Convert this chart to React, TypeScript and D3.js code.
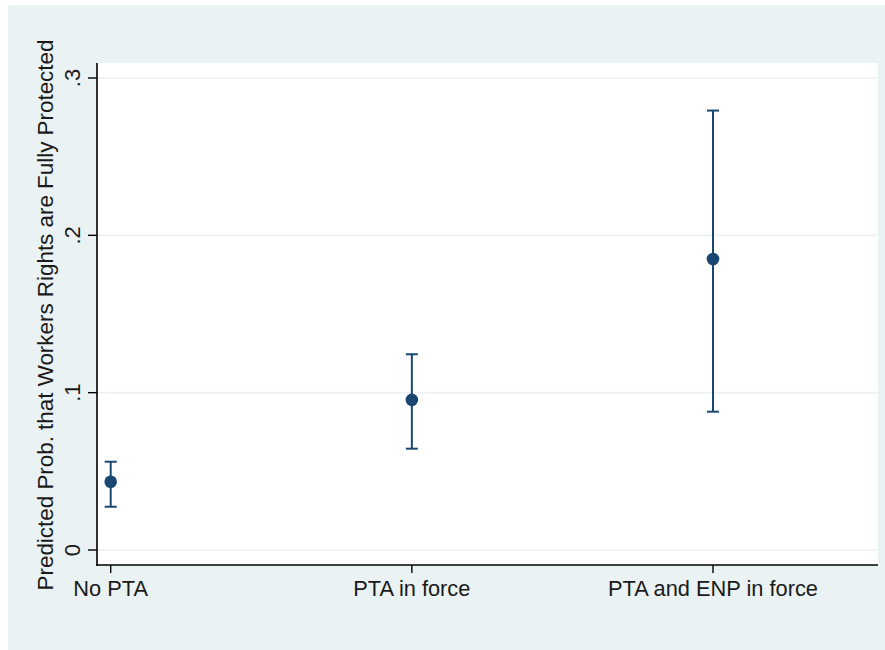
import React from "react";
import * as d3 from "d3";

// categories and predicted probabilities with 95% CIs
const categories = ["No PTA", "PTA in force", "PTA and ENP in force"];
const estimates = [0.0434, 0.0954, 0.185];
const lower = [0.0275, 0.0644, 0.0879];
const upper = [0.0561, 0.1244, 0.2793];
const yTicks = [0, 0.1, 0.2, 0.3];
const yTickLabels = ["0", ".1", ".2", ".3"];
const yTitle = "Predicted Prob. that Workers Rights are Fully Protected";

const W = 885;
const H = 650;
const plot = { left: 97, right: 878, top: 63, bottom: 565 };
const navy = "#1A476F";
const bg = "#EAF2F3";
const font = "'Liberation Sans', Arial, Helvetica, sans-serif";

export default function App() {
  const x = d3.scaleLinear().domain([0, 2]).range([110.7, 713]);
  const y = d3.scaleLinear().domain([0, 0.3]).range([550, 78]);
  const cap = 6;

  return (
    <svg
      width={W}
      height={H}
      style={{ position: "absolute", left: 0, top: 0 }}
      fontFamily={font}
    >
      <rect x={0} y={0} width={W} height={H} fill="#ffffff" />
      <rect x={8} y={5} width={W - 8} height={H - 5} fill={bg} />
      <rect
        x={plot.left}
        y={plot.top}
        width={plot.right - plot.left}
        height={plot.bottom - plot.top}
        fill="#ffffff"
      />

      {/* gridlines */}
      {yTicks.map((t) => (
        <line
          key={"g" + t}
          x1={plot.left}
          x2={plot.right}
          y1={y(t)}
          y2={y(t)}
          stroke={bg}
          strokeWidth={1.6}
        />
      ))}

      {/* error bars */}
      {categories.map((c, i) => (
        <g key={c} stroke={navy} strokeWidth={2}>
          <line x1={x(i)} x2={x(i)} y1={y(lower[i])} y2={y(upper[i])} />
          <line x1={x(i) - cap} x2={x(i) + cap} y1={y(lower[i])} y2={y(lower[i])} />
          <line x1={x(i) - cap} x2={x(i) + cap} y1={y(upper[i])} y2={y(upper[i])} />
        </g>
      ))}
      {categories.map((c, i) => (
        <circle key={"p" + c} cx={x(i)} cy={y(estimates[i])} r={6.3} fill={navy} />
      ))}

      {/* y axis */}
      <line x1={plot.left} x2={plot.left} y1={plot.top} y2={plot.bottom + 0.8} stroke="#000" strokeWidth={1.6} />
      {yTicks.map((t, i) => (
        <g key={"t" + t}>
          <line x1={plot.left - 9} x2={plot.left} y1={y(t)} y2={y(t)} stroke="#000" strokeWidth={1.4} />
          <text
            transform={`translate(80,${y(t)}) rotate(-90)`}
            textAnchor="middle"
            fontSize={22}
            fill="#1a1a1a"
          >
            {yTickLabels[i]}
          </text>
        </g>
      ))}
      <text
        transform={`translate(53,315) rotate(-90)`}
        textAnchor="middle"
        fontSize={22.4}
        fill="#1a1a1a"
      >
        {yTitle}
      </text>

      {/* x axis */}
      <line x1={plot.left - 0.8} x2={plot.right} y1={plot.bottom} y2={plot.bottom} stroke="#000" strokeWidth={1.6} />
      {categories.map((c, i) => (
        <g key={"x" + c}>
          <line x1={x(i)} x2={x(i)} y1={plot.bottom} y2={plot.bottom + 8} stroke="#000" strokeWidth={1.4} />
          <text x={x(i)} y={596} textAnchor="middle" fontSize={21.8} fill="#1a1a1a">
            {c}
          </text>
        </g>
      ))}
    </svg>
  );
}
